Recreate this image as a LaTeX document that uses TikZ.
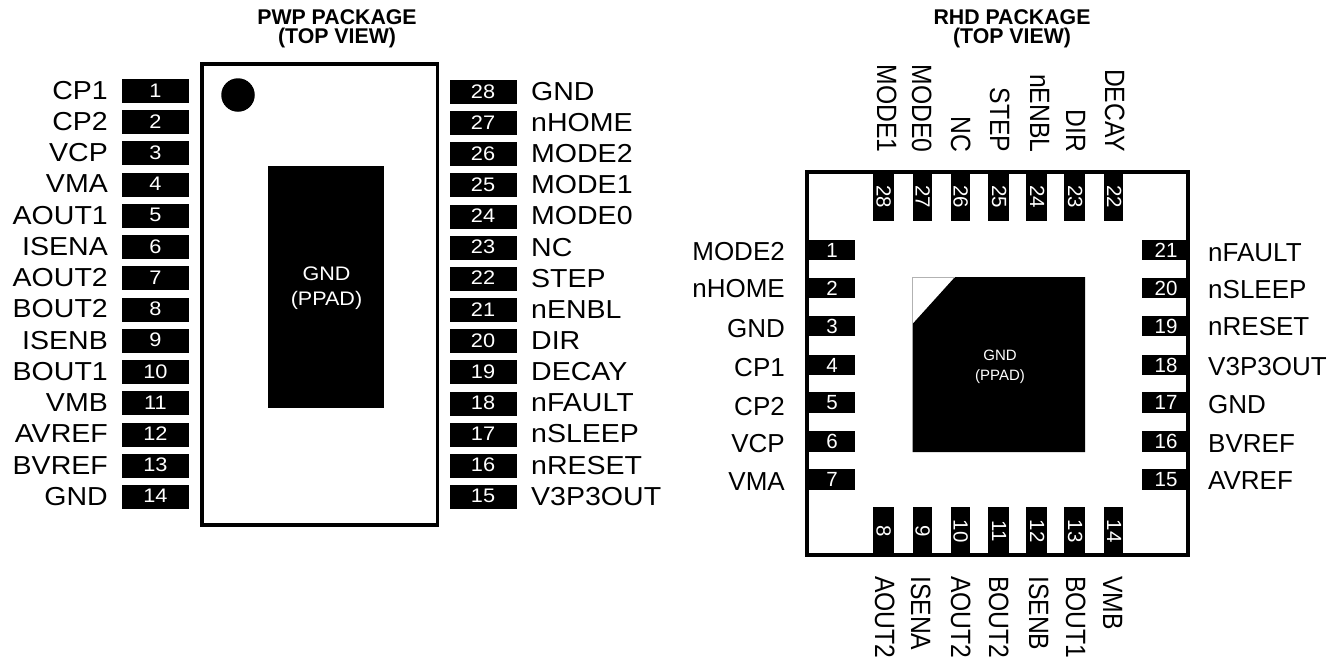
\documentclass[tikz,border=0pt]{standalone}
\usepackage{fontspec}
\setmainfont{Liberation Sans}
\newcommand\sx[2]{\scalebox{#1}[1]{#2}}
\newcommand\sy[2]{\scalebox{1}[#1]{#2}}
\tikzset{x=1pt,y=-1pt,
 lab/.style={inner sep=0pt,font=\fontsize{26}{26}\selectfont,text height=18.6pt,text depth=0pt},
 labp/.style={inner sep=0pt,font=\fontsize{26}{26}\selectfont,text height=18.6pt,text depth=0pt},
 labr/.style={lab,anchor=east},
 labl/.style={lab,anchor=west},
 labv/.style={inner sep=0pt,font=\fontsize{24.7}{25}\selectfont,rotate=-90,text height=20pt,text depth=0pt},
 labd/.style={labv,anchor=west},
 labu/.style={labv,anchor=east},
 num/.style={inner sep=0pt,text=white,font=\fontsize{20.5}{20}\selectfont,text height=14.7pt,text depth=0pt},
 nump/.style={inner sep=0pt,text=white,font=\fontsize{19.6}{20}\selectfont,text height=14pt,text depth=0pt},
 numv/.style={inner sep=0pt,text=white,rotate=-90,font=\fontsize{20.5}{20}\selectfont,text height=12.6pt,text depth=0pt},
 pin/.style={fill=black,draw=none,inner sep=0pt,minimum width=#1},
 title/.style={inner sep=0pt,align=center,font=\fontsize{21.3}{19.2}\bfseries\selectfont},
 pad/.style={inner sep=0pt,align=center,text=white},
 pkg/.style={draw=black,line width=3.6pt,fill=white,inner sep=0pt},
}
\begin{document}
\begin{tikzpicture}
\useasboundingbox (0,0) rectangle (1338,664);
% PWP
\node[title] (t1) at (337,29) {PWP PACKAGE\\(TOP VIEW)};
\node[pkg,minimum width=235.5pt,minimum height=461pt] (pwp) at (319.7,294.5) {};
\node[fill=black,circle,inner sep=0pt,minimum size=33.5pt] (dot) at (238,95) {};
\node[fill=black,inner sep=0pt,minimum width=116pt,minimum height=242pt] (ppad) at (326,287) {};
\node[pad,font=\fontsize{19.6}{25.5}\selectfont] (ppadt) at (326.5,288) {\sx{1.1}{GND}\\\sx{1.1}{(PPAD)}};
\foreach \n/\t [count=\i from 0] in {1/CP1,2/CP2,3/VCP,4/VMA,5/AOUT1,6/ISENA,7/AOUT2,8/BOUT2,9/ISENB,10/BOUT1,11/VMB,12/AVREF,13/BVREF,14/GND}{
  \pgfmathsetmacro\yy{91+31.23*\i}
  \node[pin=67pt,minimum height=24pt] (a\n) at (155.5,\yy) {};
  \node[nump] (an\n) at ([yshift=1pt]a\n) {\sx{1.11}{\n}};
  \node[labp,anchor=east] (al\n) at (108,\yy-1) {\sx{1.097}{\t}};
}
\foreach \n/\t [count=\i from 0] in {28/GND,27/nHOME,26/MODE2,25/MODE1,24/MODE0,23/NC,22/STEP,21/nENBL,20/DIR,19/DECAY,18/nFAULT,17/nSLEEP,16/nRESET,15/V3P3OUT}{
  \pgfmathsetmacro\yy{92+31.15*\i}
  \node[pin=67pt,minimum height=24pt] (a\n) at (483,\yy) {};
  \node[nump] (an\n) at ([yshift=1pt]a\n) {\sx{1.11}{\n}};
  \node[labp,anchor=west] (al\n) at (531,\yy-1) {\sx{1.097}{\t}};
}
% RHD
\node[title] (t2) at (1012,29) {RHD PACKAGE\\(TOP VIEW)};
\node[pkg,minimum width=381pt,minimum height=383pt] (rhd) at (997.5,363.5) {};
\fill[black] (955,277) -- (1085,277) -- (1085,452) -- (912.5,452) -- (912.5,324) -- cycle;
\draw[gray!60,line width=.6pt] (955,277) -- (912.5,277) -- (912.5,324);
\node[pad,font=\fontsize{15}{20}\selectfont] (ppad2) at (1000,367) {GND\\(PPAD)};
\foreach \n/\t/\yp/\yl in {1/MODE2/250/251,2/nHOME/288/288,3/GND/326/328,4/CP1/365/367,5/CP2/402.5/406,6/VCP/441.5/443,7/VMA/479.5/481}{
  \node[pin=48pt,minimum height=20.5pt] (b\n) at (831,\yp) {};
  \node[num] (bn\n) at ([xshift=1pt]b\n) {\n};
  \node[labr] (bl\n) at (785,\yl) {\t};
}
\foreach \n/\t/\yp/\yl in {21/nFAULT/250/252,20/nSLEEP/288/289,19/nRESET/326/326,18/V3P3OUT/365/366,17/GND/402.5/404,16/BVREF/441.5/443,15/AVREF/479.5/480}{
  \node[pin=45pt,minimum height=20.5pt] (b\n) at (1164.5,\yp) {};
  \node[num] (bn\n) at ([xshift=1.5pt]b\n) {\n};
  \node[labl] (bl\n) at (1208,\yl) {\t};
}
\foreach \n/\t/\xp/\w/\xl in {28/MODE1/883/21/887,27/MODE0/922/19/922,26/NC/960/19/961,25/STEP/998.5/21/1000,24/nENBL/1036.5/21/1040,23/DIR/1074.5/21/1076,22/DECAY/1113.5/19/1115}{
  \node[pin=\w pt,minimum height=48pt] (b\n) at (\xp,196.5) {};
  \node[numv] (bn\n) at (b\n) {\n};
  \node[labu] (bl\n) at (\xl,152.5) {\sy{1.13}{\t}};
}
\foreach \n/\t/\xp/\w/\xl in {8/AOUT2/883/21/885,9/ISENA/922/19/921,10/AOUT2/960/19/961,11/BOUT2/998.5/21/999,12/ISENB/1036.5/21/1039,13/BOUT1/1074.5/21/1076,14/VMB/1113.5/19/1113}{
  \node[pin=\w pt,minimum height=48pt] (b\n) at (\xp,531) {};
  \node[numv] (bn\n) at (b\n) {\n};
  \node[labd] (bl\n) at (\xl,576) {\sy{1.13}{\t}};
}
\end{tikzpicture}
\end{document}
